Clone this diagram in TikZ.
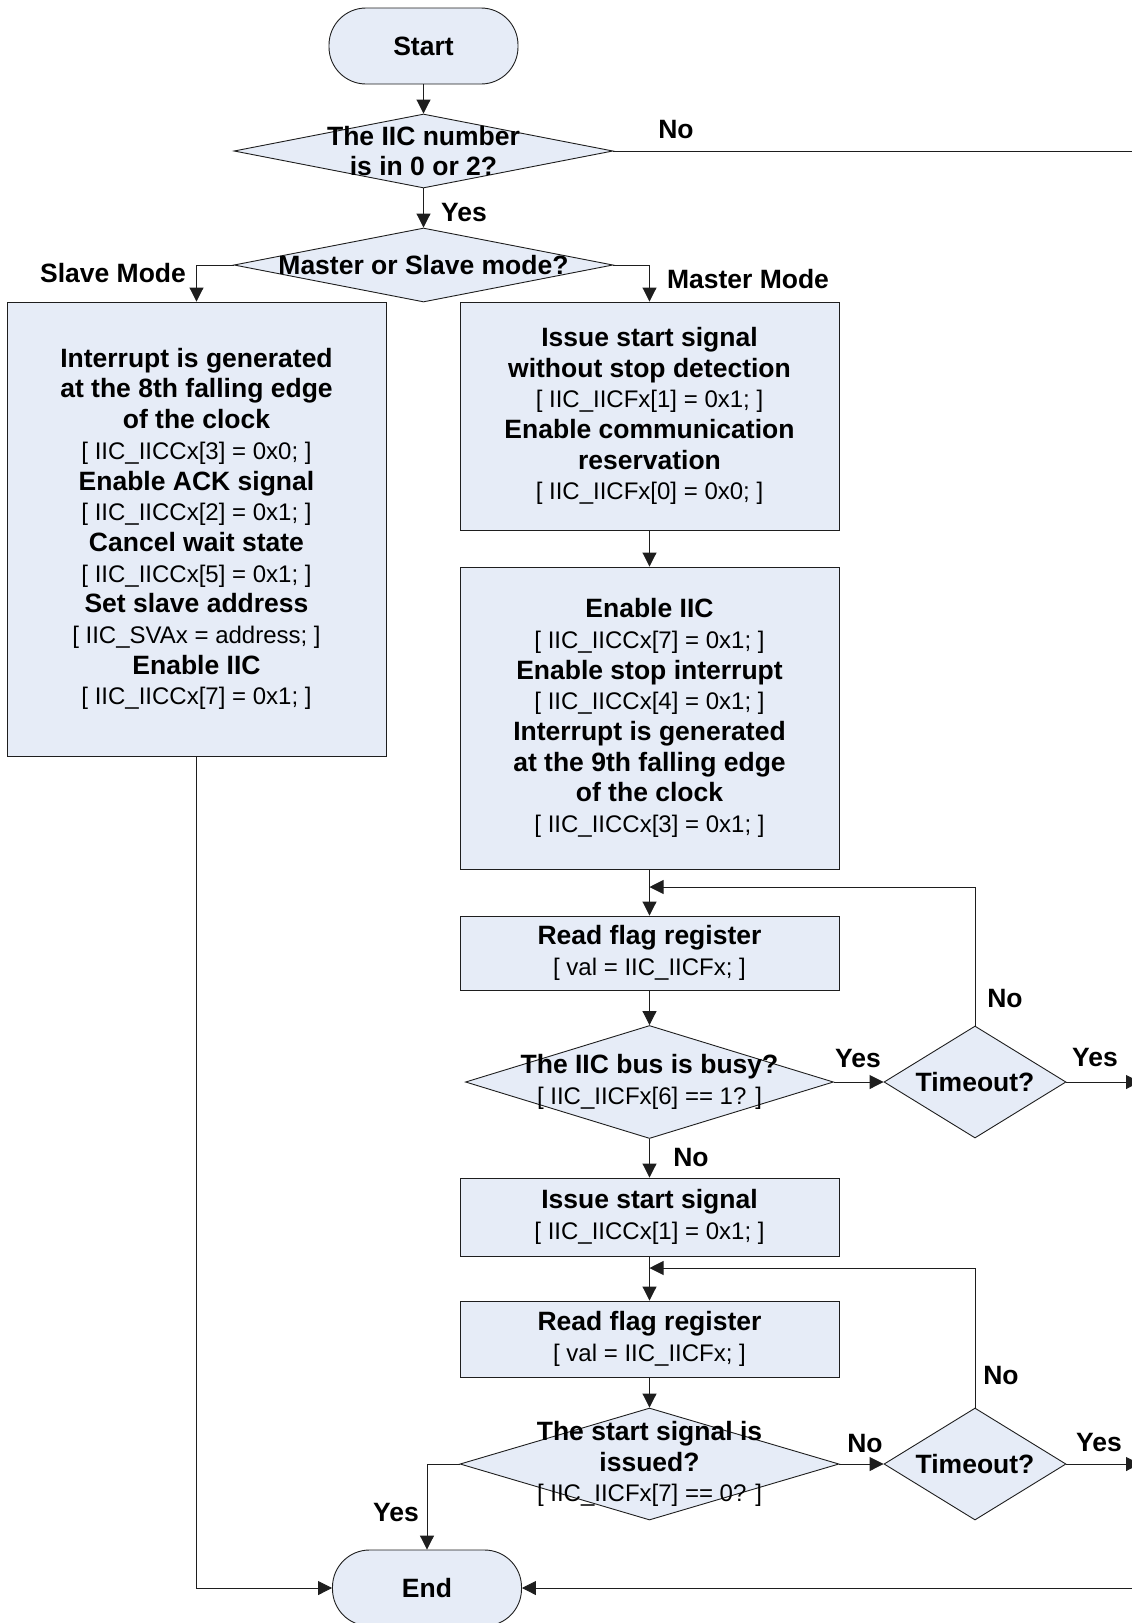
\documentclass[tikz,border=0pt]{standalone}
\usepackage{fontspec}
\setmainfont{Liberation Sans}
\usetikzlibrary{shapes.geometric,arrows.meta}
\definecolor{boxfill}{RGB}{230,236,247}
\definecolor{edge}{RGB}{30,30,30}
% register assignment lines are set lighter and smaller than the step titles
\newcommand\cd[1]{{\fontsize{24}{30.7}\selectfont\mdseries #1}}

\begin{document}
\begin{tikzpicture}[x=1pt,y=-1pt,
  every node/.style={font=\fontsize{26.5}{30.7}\selectfont\bfseries, text=black},
  proc/.style={draw=edge, fill=boxfill, line width=0.9pt, rectangle, inner sep=0pt,
    minimum width=379pt, align=center},
  term/.style={draw=edge, fill=boxfill, line width=0.9pt, rectangle, rounded corners=37pt,
    minimum width=189pt, minimum height=76pt, inner sep=0pt},
  dia/.style={draw=edge, fill=boxfill, line width=0.9pt, diamond, inner sep=0pt},
  txt/.style={align=center, inner sep=0pt},
  lbl/.style={inner sep=0pt},
  tip/.tip={Triangle[length=14pt,width=14pt]},
  arr/.style={draw=edge, line width=0.9pt, -tip},
  ln/.style={draw=edge, line width=0.9pt}
]
\useasboundingbox (0,0) rectangle (1132,1623);
\clip (0,0) rectangle (1132,1623);

% ---- start and mode selection ----
\node[term] (start) at (423.5,46) {Start};
\node[dia, minimum width=379pt, minimum height=74pt] (dnum) at (423.5,151) {};
\node[txt] (tnum) at (dnum.center) {The IIC number\\is in 0 or 2?};
\node[dia, minimum width=379pt, minimum height=74pt] (dmode) at (423.5,265) {};
\node[txt] (tmode) at (dmode.center) {Master or Slave mode?};

% ---- slave branch ----
\node[proc, minimum height=454pt] (slave) at (196.5,529) {};
\node[txt] (tslave) at (slave.center) {Interrupt is generated\\at the 8th falling edge\\of the clock\\
  \cd{[ IIC\_IICCx[3] = 0x0; ]}\\Enable ACK signal\\\cd{[ IIC\_IICCx[2] = 0x1; ]}\\
  Cancel wait state\\\cd{[ IIC\_IICCx[5] = 0x1; ]}\\Set slave address\\
  \cd{[ IIC\_SVAx = address; ]}\\Enable IIC\\\cd{[ IIC\_IICCx[7] = 0x1; ]}};

% ---- master branch ----
\node[proc, minimum height=228pt] (m1) at (649.5,416) {};
\node[txt] (tm1) at (m1.center) {Issue start signal\\without stop detection\\
  \cd{[ IIC\_IICFx[1] = 0x1; ]}\\Enable communication\\reservation\\
  \cd{[ IIC\_IICFx[0] = 0x0; ]}};
\node[proc, minimum height=302pt] (m2) at (649.5,718) {};
\node[txt] (tm2) at (m2.center) {Enable IIC\\\cd{[ IIC\_IICCx[7] = 0x1; ]}\\
  Enable stop interrupt\\\cd{[ IIC\_IICCx[4] = 0x1; ]}\\Interrupt is generated\\
  at the 9th falling edge\\of the clock\\\cd{[ IIC\_IICCx[3] = 0x1; ]}};

\node[proc, minimum height=74pt] (rd1) at (649.5,953) {};
\node[txt] (trd1) at (rd1.center) {Read flag register\\\cd{[ val = IIC\_IICFx; ]}};
\node[dia, minimum width=368pt, minimum height=113pt] (busy) at (649.5,1082) {};
\node[txt] (tbusy) at (busy.center) {The IIC bus is busy?\\\cd{[ IIC\_IICFx[6] == 1? ]}};
\node[dia, minimum width=182pt, minimum height=112pt] (to1) at (975,1082) {};
\node[txt] (tto1) at (to1.center) {Timeout?};

\node[proc, minimum height=78pt] (iss) at (649.5,1217) {};
\node[txt] (tiss) at (iss.center) {Issue start signal\\\cd{[ IIC\_IICCx[1] = 0x1; ]}};
\node[proc, minimum height=76pt] (rd2) at (649.5,1339) {};
\node[txt] (trd2) at (rd2.center) {Read flag register\\\cd{[ val = IIC\_IICFx; ]}};
\node[dia, minimum width=379pt, minimum height=112pt] (isd) at (649.5,1464) {};
\node[txt] (tisd) at (isd.center) {The start signal is\\issued?\\\cd{[ IIC\_IICFx[7] == 0? ]}};
\node[dia, minimum width=182pt, minimum height=112pt] (to2) at (975,1464) {};
\node[txt] (tto2) at (to2.center) {Timeout?};

\node[term] (end) at (427,1588) {End};

% ---- junctions and free ends ----
\coordinate (j1) at (649.5,887);
\coordinate (j2) at (649.5,1268);
\coordinate (rNo) at (1140,151);
\coordinate (rY1) at (1140,1082);
\coordinate (rY2) at (1140,1464);
\coordinate (rEnd) at (1140,1588);

% ---- connectors ----
\draw[arr] (start) -- (dnum);
\draw[arr] (dnum) -- (dmode);
\draw[ln] (dnum.east) -- (rNo);
\draw[arr] (dmode.west) -| (slave.north);
\draw[arr] (dmode.east) -| (m1.north);
\draw[arr] (m1) -- (m2);
\draw[arr] (m2) -- (rd1);
\draw[arr] (rd1) -- (busy);
\draw[arr] (busy.east) -- (to1.west);
\draw[arr] (to1.north) |- (j1);
\draw[arr] (to1.east) -- (rY1);
\draw[arr] (busy.south) -- (iss.north);
\draw[arr] (iss) -- (rd2);
\draw[arr] (rd2) -- (isd);
\draw[arr] (isd.east) -- (to2.west);
\draw[arr] (to2.north) |- (j2);
\draw[arr] (to2.east) -- (rY2);
\draw[arr] (isd.west) -| (end.north);
\draw[arr] (slave.south) |- (end.west);
\draw[arr] (rEnd) -- (end.east);

% ---- branch labels ----
\node[lbl] (lNo1) at (676,130) {No};
\node[lbl, anchor=west] (lYes1) at (441,213) {Yes};
\node[lbl] (lSlave) at (113,273) {Slave Mode};
\node[lbl] (lMaster) at (748,279) {Master Mode};
\node[lbl] (lYes2) at (858,1058) {Yes};
\node[lbl] (lYes3) at (1095,1057) {Yes};
\node[lbl] (lNo2) at (1005,998) {No};
\node[lbl] (lNo3) at (691,1157) {No};
\node[lbl] (lNo4) at (865,1443) {No};
\node[lbl] (lYes4) at (1099,1442) {Yes};
\node[lbl] (lNo5) at (1001,1375) {No};
\node[lbl] (lYes5) at (396,1512) {Yes};
\end{tikzpicture}
\end{document}
